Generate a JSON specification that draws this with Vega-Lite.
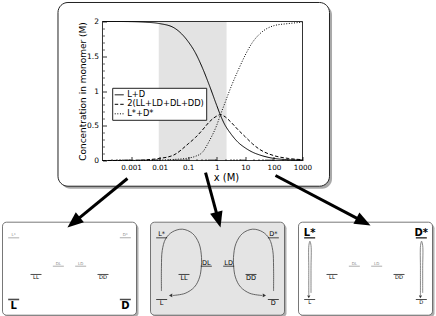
{
  "$schema": "https://vega.github.io/schema/vega-lite/v6.json",
  "background": "white",
  "padding": {"left": 1.5, "top": 1.5, "right": 0, "bottom": 0},
  "config": {
    "font": "DejaVu Sans",
    "view": {"stroke": null},
    "axis": {"labelFont": "DejaVu Sans", "titleFont": "DejaVu Sans"},
    "legend": {"labelFont": "DejaVu Sans"}
  },
  "datasets": {
    "main": [
      {"x": 0.0001, "s": "L+D", "c": 2.0}, {"x": 0.0001, "s": "2(LL+LD+DL+DD)", "c": 0.0}, {"x": 0.0001, "s": "L*+D*", "c": 0.0},
      {"x": 0.00031623, "s": "L+D", "c": 2.0}, {"x": 0.00031623, "s": "2(LL+LD+DL+DD)", "c": 0.001}, {"x": 0.00031623, "s": "L*+D*", "c": 0.0},
      {"x": 0.001, "s": "L+D", "c": 1.998}, {"x": 0.001, "s": "2(LL+LD+DL+DD)", "c": 0.003}, {"x": 0.001, "s": "L*+D*", "c": 0.0005},
      {"x": 0.0031623, "s": "L+D", "c": 1.99}, {"x": 0.0031623, "s": "2(LL+LD+DL+DD)", "c": 0.01}, {"x": 0.0031623, "s": "L*+D*", "c": 0.002},
      {"x": 0.01, "s": "L+D", "c": 1.97}, {"x": 0.01, "s": "2(LL+LD+DL+DD)", "c": 0.03}, {"x": 0.01, "s": "L*+D*", "c": 0.006},
      {"x": 0.031623, "s": "L+D", "c": 1.91}, {"x": 0.031623, "s": "2(LL+LD+DL+DD)", "c": 0.08}, {"x": 0.031623, "s": "L*+D*", "c": 0.015},
      {"x": 0.1, "s": "L+D", "c": 1.71}, {"x": 0.1, "s": "2(LL+LD+DL+DD)", "c": 0.24}, {"x": 0.1, "s": "L*+D*", "c": 0.035},
      {"x": 0.17783, "s": "L+D", "c": 1.55}, {"x": 0.17783, "s": "2(LL+LD+DL+DD)", "c": 0.33}, {"x": 0.17783, "s": "L*+D*", "c": 0.06},
      {"x": 0.31623, "s": "L+D", "c": 1.33}, {"x": 0.31623, "s": "2(LL+LD+DL+DD)", "c": 0.44}, {"x": 0.31623, "s": "L*+D*", "c": 0.12},
      {"x": 0.56234, "s": "L+D", "c": 1.07}, {"x": 0.56234, "s": "2(LL+LD+DL+DD)", "c": 0.56}, {"x": 0.56234, "s": "L*+D*", "c": 0.29},
      {"x": 1, "s": "L+D", "c": 0.79}, {"x": 1, "s": "2(LL+LD+DL+DD)", "c": 0.64}, {"x": 1, "s": "L*+D*", "c": 0.51},
      {"x": 1.349, "s": "L+D", "c": 0.65}, {"x": 1.349, "s": "2(LL+LD+DL+DD)", "c": 0.66}, {"x": 1.349, "s": "L*+D*", "c": 0.66},
      {"x": 1.7783, "s": "L+D", "c": 0.54}, {"x": 1.7783, "s": "2(LL+LD+DL+DD)", "c": 0.64}, {"x": 1.7783, "s": "L*+D*", "c": 0.79},
      {"x": 3.1623, "s": "L+D", "c": 0.38}, {"x": 3.1623, "s": "2(LL+LD+DL+DD)", "c": 0.55}, {"x": 3.1623, "s": "L*+D*", "c": 1.06},
      {"x": 5.6234, "s": "L+D", "c": 0.26}, {"x": 5.6234, "s": "2(LL+LD+DL+DD)", "c": 0.44}, {"x": 5.6234, "s": "L*+D*", "c": 1.30},
      {"x": 10, "s": "L+D", "c": 0.18}, {"x": 10, "s": "2(LL+LD+DL+DD)", "c": 0.34}, {"x": 10, "s": "L*+D*", "c": 1.52},
      {"x": 17.783, "s": "L+D", "c": 0.12}, {"x": 17.783, "s": "2(LL+LD+DL+DD)", "c": 0.24}, {"x": 17.783, "s": "L*+D*", "c": 1.70},
      {"x": 31.623, "s": "L+D", "c": 0.08}, {"x": 31.623, "s": "2(LL+LD+DL+DD)", "c": 0.16}, {"x": 31.623, "s": "L*+D*", "c": 1.82},
      {"x": 100, "s": "L+D", "c": 0.03}, {"x": 100, "s": "2(LL+LD+DL+DD)", "c": 0.07}, {"x": 100, "s": "L*+D*", "c": 1.94},
      {"x": 316.23, "s": "L+D", "c": 0.012}, {"x": 316.23, "s": "2(LL+LD+DL+DD)", "c": 0.03}, {"x": 316.23, "s": "L*+D*", "c": 1.97},
      {"x": 1000, "s": "L+D", "c": 0.004}, {"x": 1000, "s": "2(LL+LD+DL+DD)", "c": 0.012}, {"x": 1000, "s": "L*+D*", "c": 1.99}
    ],
    "levels": [
      {"panel": 1, "species": "L*", "col": 1, "energy": 8.32, "pop": "trace"},
      {"panel": 1, "species": "D*", "col": 11, "energy": 8.32, "pop": "trace"},
      {"panel": 1, "species": "DL", "col": 5, "energy": 5.27, "pop": "trace"},
      {"panel": 1, "species": "LD", "col": 7, "energy": 5.27, "pop": "trace"},
      {"panel": 1, "species": "LL", "col": 3, "energy": 4.38, "pop": "minor"},
      {"panel": 1, "species": "DD", "col": 9, "energy": 4.38, "pop": "minor"},
      {"panel": 1, "species": "L", "col": 1, "energy": 1.69, "pop": "major"},
      {"panel": 1, "species": "D", "col": 11, "energy": 1.69, "pop": "major"},
      {"panel": 2, "species": "L*", "col": 1, "energy": 8.32, "pop": "medium"},
      {"panel": 2, "species": "D*", "col": 11, "energy": 8.32, "pop": "medium"},
      {"panel": 2, "species": "DL", "col": 5, "energy": 5.27, "pop": "medium"},
      {"panel": 2, "species": "LD", "col": 7, "energy": 5.27, "pop": "medium"},
      {"panel": 2, "species": "LL", "col": 3, "energy": 4.38, "pop": "medium"},
      {"panel": 2, "species": "DD", "col": 9, "energy": 4.38, "pop": "medium"},
      {"panel": 2, "species": "L", "col": 1, "energy": 1.69, "pop": "medium"},
      {"panel": 2, "species": "D", "col": 11, "energy": 1.69, "pop": "medium"},
      {"panel": 3, "species": "L*", "col": 1, "energy": 8.32, "pop": "major"},
      {"panel": 3, "species": "D*", "col": 11, "energy": 8.32, "pop": "major"},
      {"panel": 3, "species": "DL", "col": 5, "energy": 5.27, "pop": "trace"},
      {"panel": 3, "species": "LD", "col": 7, "energy": 5.27, "pop": "trace"},
      {"panel": 3, "species": "LL", "col": 3, "energy": 4.38, "pop": "minor"},
      {"panel": 3, "species": "DD", "col": 9, "energy": 4.38, "pop": "minor"},
      {"panel": 3, "species": "L", "col": 1, "energy": 1.69, "pop": "minor"},
      {"panel": 3, "species": "D", "col": 11, "energy": 1.69, "pop": "minor"}
    ],
    "paths": [
      {"panel": 2, "path": "a", "seq": 1, "x": 0.98, "y": 2.6},
      {"panel": 2, "path": "a", "seq": 2, "x": 0.98, "y": 5.2},
      {"panel": 2, "path": "a", "seq": 3, "x": 1.05, "y": 6.95},
      {"panel": 2, "path": "a", "seq": 4, "x": 1.35, "y": 8.2},
      {"panel": 2, "path": "a", "seq": 5, "x": 1.95, "y": 8.95},
      {"panel": 2, "path": "a", "seq": 6, "x": 2.85, "y": 9.25},
      {"panel": 2, "path": "a", "seq": 7, "x": 3.75, "y": 8.8},
      {"panel": 2, "path": "a", "seq": 8, "x": 4.35, "y": 7.7},
      {"panel": 2, "path": "a", "seq": 9, "x": 4.57, "y": 6.2},
      {"panel": 2, "path": "a", "seq": 10, "x": 4.55, "y": 5.2},
      {"panel": 2, "path": "a", "seq": 11, "x": 4.4, "y": 4.1},
      {"panel": 2, "path": "a", "seq": 12, "x": 3.95, "y": 3.05},
      {"panel": 2, "path": "a", "seq": 13, "x": 3.1, "y": 2.35},
      {"panel": 2, "path": "a", "seq": 14, "x": 2.0, "y": 2.12},
      {"panel": 2, "path": "b", "seq": 1, "x": 11.02, "y": 2.6},
      {"panel": 2, "path": "b", "seq": 2, "x": 11.02, "y": 5.2},
      {"panel": 2, "path": "b", "seq": 3, "x": 10.95, "y": 6.95},
      {"panel": 2, "path": "b", "seq": 4, "x": 10.65, "y": 8.2},
      {"panel": 2, "path": "b", "seq": 5, "x": 10.05, "y": 8.95},
      {"panel": 2, "path": "b", "seq": 6, "x": 9.15, "y": 9.25},
      {"panel": 2, "path": "b", "seq": 7, "x": 8.25, "y": 8.8},
      {"panel": 2, "path": "b", "seq": 8, "x": 7.65, "y": 7.7},
      {"panel": 2, "path": "b", "seq": 9, "x": 7.43, "y": 6.2},
      {"panel": 2, "path": "b", "seq": 10, "x": 7.45, "y": 5.2},
      {"panel": 2, "path": "b", "seq": 11, "x": 7.6, "y": 4.1},
      {"panel": 2, "path": "b", "seq": 12, "x": 8.05, "y": 3.05},
      {"panel": 2, "path": "b", "seq": 13, "x": 8.9, "y": 2.35},
      {"panel": 2, "path": "b", "seq": 14, "x": 10.0, "y": 2.12},
      {"panel": 3, "path": "a", "seq": 1, "x": 0.92, "y": 2.15},
      {"panel": 3, "path": "a", "seq": 2, "x": 0.92, "y": 5.0},
      {"panel": 3, "path": "a", "seq": 3, "x": 0.93, "y": 7.5},
      {"panel": 3, "path": "a", "seq": 4, "x": 1.02, "y": 7.95},
      {"panel": 3, "path": "a", "seq": 5, "x": 1.12, "y": 7.5},
      {"panel": 3, "path": "a", "seq": 6, "x": 1.12, "y": 5.0},
      {"panel": 3, "path": "a", "seq": 7, "x": 1.12, "y": 2.4},
      {"panel": 3, "path": "b", "seq": 1, "x": 10.92, "y": 2.15},
      {"panel": 3, "path": "b", "seq": 2, "x": 10.92, "y": 5.0},
      {"panel": 3, "path": "b", "seq": 3, "x": 10.93, "y": 7.5},
      {"panel": 3, "path": "b", "seq": 4, "x": 11.02, "y": 7.95},
      {"panel": 3, "path": "b", "seq": 5, "x": 11.12, "y": 7.5},
      {"panel": 3, "path": "b", "seq": 6, "x": 11.12, "y": 5.0},
      {"panel": 3, "path": "b", "seq": 7, "x": 11.12, "y": 2.4}
    ],
    "heads": [
      {"panel": 2, "x": 1.8, "y": 2.12, "dir": "left"},
      {"panel": 2, "x": 10.2, "y": 2.12, "dir": "right"},
      {"panel": 3, "x": 0.92, "y": 1.98, "dir": "down"},
      {"panel": 3, "x": 10.92, "y": 1.98, "dir": "down"}
    ]
  },
  "bounds": "flush",
  "spacing": 61.7,
  "vconcat": [
    {
      "width": 300,
      "height": 139,
      "resolve": {"axis": {"x": "independent", "y": "independent"}},
      "layer": [
        {
          "data": {"values": [{}]},
          "mark": {"type": "rect", "cornerRadius": 10, "fill": "#8c8c8c", "opacity": 0.75, "clip": false},
          "encoding": {
            "x": {"datum": 3.39e-6, "type": "quantitative", "scale": {"type": "log", "domain": [3.1623e-8, 1000], "nice": false}, "axis": null},
            "x2": {"datum": 10790},
            "y": {"datum": -0.406, "type": "quantitative", "scale": {"domain": [0, 2], "nice": false, "zero": false}, "axis": null},
            "y2": {"datum": 2.2374}
          }
        },
        {
          "data": {"values": [{}]},
          "mark": {"type": "rect", "cornerRadius": 10, "fill": "white", "stroke": "#222", "strokeWidth": 1, "clip": false},
          "encoding": {
            "x": {"datum": 2.77e-6, "type": "quantitative", "scale": {"type": "log", "domain": [3.1623e-8, 1000], "nice": false}, "axis": null},
            "x2": {"datum": 8810},
            "y": {"datum": -0.37, "type": "quantitative", "scale": {"domain": [0, 2], "nice": false, "zero": false}, "axis": null},
            "y2": {"datum": 2.2734}
          }
        },
        {
          "data": {"values": [{}]},
          "mark": {"type": "rect", "fill": "#e3e3e3"},
          "encoding": {
            "x": {"datum": 0.0093, "type": "quantitative", "scale": {"type": "log", "domain": [3.1623e-8, 1000], "nice": false}, "axis": null},
            "x2": {"datum": 2.2},
            "y": {"datum": 0, "type": "quantitative", "scale": {"domain": [0, 2], "nice": false, "zero": false}, "axis": null},
            "y2": {"datum": 2}
          }
        },
        {
          "data": {"name": "main"},
          "mark": {"type": "line", "color": "black", "strokeWidth": 1, "interpolate": "monotone"},
          "encoding": {
            "x": {
              "field": "x", "type": "quantitative",
              "scale": {"type": "log", "domain": [3.1623e-8, 1000], "nice": false},
              "axis": {
                "zindex": 2, "orient": "bottom",
                "values": [0.001, 0.01, 0.1, 1, 10, 100, 1000], "format": "~g",
                "tickSize": -4, "tickColor": "black", "tickWidth": 0.8,
                "labelPadding": 6.5, "labelFontSize": 7.2, "labelColor": "black",
                "labelFlush": false, "labelOverlap": false,
                "domain": false, "grid": false,
                "title": "x (M)", "titleFontSize": 10, "titleFontWeight": "normal", "titleColor": "black",
                "titleX": 223.5, "titleY": 19.5, "titleBaseline": "alphabetic"
              }
            },
            "y": {
              "field": "c", "type": "quantitative",
              "scale": {"domain": [0, 2], "nice": false, "zero": false},
              "axis": {
                "zindex": 2,
                "orient": "left", "offset": -100,
                "values": [0, 0.5, 1, 1.5, 2], "format": "~g",
                "tickSize": -4, "tickColor": "black", "tickWidth": 0.8,
                "labelPadding": 8, "labelFontSize": 7.5, "labelColor": "black",
                "labelFlush": false, "labelOverlap": false,
                "domain": false, "grid": false,
                "title": "Concentration in monomer (M)", "titleFontSize": 9, "titleFontWeight": "normal", "titleColor": "black",
                "titleX": -17.5, "titleBaseline": "alphabetic"
              }
            },
            "strokeDash": {
              "field": "s", "type": "nominal",
              "scale": {"domain": ["L+D", "2(LL+LD+DL+DD)", "L*+D*"], "range": [[1, 0], [3.5, 2], [1, 1.6]]},
              "legend": {
                "orient": "none", "legendX": 109.7, "legendY": 66.3, "title": null,
                "fillColor": "white", "strokeColor": "#222", "padding": 2, "cornerRadius": 0,
                "symbolType": "stroke", "symbolSize": 80, "symbolStrokeWidth": 1, "symbolStrokeColor": "black",
                "labelFontSize": 8.3, "labelColor": "black", "labelOffset": 3, "rowPadding": 0.5
              }
            }
          }
        },
        {
          "data": {"values": [{}]},
          "mark": {"type": "rect", "filled": false, "color": "black", "strokeWidth": 0.8},
          "encoding": {
            "x": {
              "datum": 0.0001, "type": "quantitative",
              "scale": {"type": "log", "domain": [3.1623e-8, 1000], "nice": false},
              "axis": {
                "zindex": 2, "orient": "bottom",
                "values": [0.0002, 0.0003, 0.0004, 0.0005, 0.0006, 0.0007, 0.0008, 0.0009,
                           0.002, 0.003, 0.004, 0.005, 0.006, 0.007, 0.008, 0.009,
                           0.02, 0.03, 0.04, 0.05, 0.06, 0.07, 0.08, 0.09,
                           0.2, 0.3, 0.4, 0.5, 0.6, 0.7, 0.8, 0.9,
                           2, 3, 4, 5, 6, 7, 8, 9,
                           20, 30, 40, 50, 60, 70, 80, 90,
                           200, 300, 400, 500, 600, 700, 800, 900],
                "labels": false, "tickSize": -2, "tickColor": "black", "tickWidth": 0.6,
                "domain": false, "grid": false, "title": null
              }
            },
            "x2": {"datum": 1000},
            "y": {
              "datum": 0, "type": "quantitative",
              "scale": {"domain": [0, 2], "nice": false, "zero": false},
              "axis": {
                "zindex": 2, "orient": "left", "offset": -100,
                "values": [0.1, 0.2, 0.3, 0.4, 0.6, 0.7, 0.8, 0.9, 1.1, 1.2, 1.3, 1.4, 1.6, 1.7, 1.8, 1.9],
                "labels": false, "tickSize": -2, "tickColor": "black", "tickWidth": 0.6,
                "domain": false, "grid": false, "title": null
              }
            },
            "y2": {"datum": 2}
          }
        }
      ]
    },
    {
      "bounds": "flush",
      "spacing": 14,
      "hconcat": [
        {
          "width": 134,
          "height": 93,
          "layer": [
            {
              "data": {"values": [{}]},
              "mark": {"type": "rect", "cornerRadius": 4, "fill": "#8c8c8c", "opacity": 0.7, "clip": false},
              "encoding": {
                "x": {"datum": 0.18, "type": "quantitative", "scale": {"domain": [0, 12], "nice": false, "zero": false}, "axis": null},
                "x2": {"datum": 12.18},
                "y": {"datum": -0.22, "type": "quantitative", "scale": {"domain": [0, 10], "nice": false, "zero": false}, "axis": null},
                "y2": {"datum": 9.78}
              }
            },
            {
              "data": {"values": [{}]},
              "mark": {"type": "rect", "cornerRadius": 4, "fill": "white", "stroke": "#555", "strokeWidth": 0.8, "clip": false},
              "encoding": {
                "x": {"datum": 0, "type": "quantitative", "scale": {"domain": [0, 12], "nice": false, "zero": false}, "axis": null},
                "x2": {"datum": 12},
                "y": {"datum": 0, "type": "quantitative", "scale": {"domain": [0, 10], "nice": false, "zero": false}, "axis": null},
                "y2": {"datum": 10}
              }
            },
            {
              "data": {"name": "levels"},
              "transform": [{"filter": "datum.panel == 1 && datum.pop != 'major'"}],
              "mark": {"type": "tick", "orient": "horizontal", "size": 11, "thickness": 1},
              "encoding": {
                "x": {"field": "col", "type": "quantitative", "scale": {"domain": [0, 12], "nice": false, "zero": false}, "axis": null},
                "y": {"field": "energy", "type": "quantitative", "scale": {"domain": [0, 10], "nice": false, "zero": false}, "axis": null},
                "color": {"field": "pop", "type": "nominal", "scale": {"domain": ["major", "medium", "minor", "trace"], "range": ["black", "black", "black", "#8a8a8a"]}, "legend": null}
              }
            },
            {
              "data": {"name": "levels"},
              "transform": [{"filter": "datum.panel == 1 && datum.pop == 'major'"}],
              "mark": {"type": "tick", "orient": "horizontal", "size": 11, "thickness": 1.6, "color": "black"},
              "encoding": {
                "x": {"field": "col", "type": "quantitative", "scale": {"domain": [0, 12], "nice": false, "zero": false}, "axis": null},
                "y": {"field": "energy", "type": "quantitative", "scale": {"domain": [0, 10], "nice": false, "zero": false}, "axis": null}
              }
            },
            {
              "data": {"name": "levels"},
              "transform": [{"filter": "datum.panel == 1 && datum.pop != 'major' && indexof(['L*','D*','DL','LD'], datum.species) >= 0"}],
              "mark": {"type": "text", "baseline": "alphabetic", "align": "center", "dy": -1.5},
              "encoding": {
                "x": {"field": "col", "type": "quantitative", "scale": {"domain": [0, 12], "nice": false, "zero": false}, "axis": null},
                "y": {"field": "energy", "type": "quantitative", "scale": {"domain": [0, 10], "nice": false, "zero": false}, "axis": null},
                "text": {"field": "species"},
                "size": {"field": "pop", "type": "nominal", "scale": {"domain": ["medium", "minor", "trace"], "range": [6.5, 4, 4]}, "legend": null},
                "color": {"field": "pop", "type": "nominal", "scale": {"domain": ["major", "medium", "minor", "trace"], "range": ["black", "black", "black", "#8a8a8a"]}, "legend": null}
              }
            },
            {
              "data": {"name": "levels"},
              "transform": [{"filter": "datum.panel == 1 && datum.pop != 'major' && indexof(['LL','DD','L','D'], datum.species) >= 0"}],
              "mark": {"type": "text", "baseline": "top", "align": "center", "dy": 1},
              "encoding": {
                "x": {"field": "col", "type": "quantitative", "scale": {"domain": [0, 12], "nice": false, "zero": false}, "axis": null},
                "y": {"field": "energy", "type": "quantitative", "scale": {"domain": [0, 10], "nice": false, "zero": false}, "axis": null},
                "text": {"field": "species"},
                "size": {"field": "pop", "type": "nominal", "scale": {"domain": ["medium", "minor", "trace"], "range": [6.5, 4, 4]}, "legend": null},
                "color": {"field": "pop", "type": "nominal", "scale": {"domain": ["major", "medium", "minor", "trace"], "range": ["black", "black", "black", "#8a8a8a"]}, "legend": null}
              }
            },
            {
              "data": {"name": "levels"},
              "transform": [{"filter": "datum.panel == 1 && datum.pop == 'major'"}],
              "mark": {"type": "text", "baseline": "top", "align": "center", "dy": 1.5, "fontSize": 10, "fontWeight": "bold", "color": "black"},
              "encoding": {
                "x": {"field": "col", "type": "quantitative", "scale": {"domain": [0, 12], "nice": false, "zero": false}, "axis": null},
                "y": {"field": "energy", "type": "quantitative", "scale": {"domain": [0, 10], "nice": false, "zero": false}, "axis": null},
                "text": {"field": "species"}
              }
            },
            {
              "data": {"values": [{}]},
              "mark": {"type": "rule", "strokeWidth": 3, "color": "black", "clip": false},
              "encoding": {
                "x": {"datum": 11.19, "type": "quantitative", "scale": {"domain": [0, 12], "nice": false, "zero": false}, "axis": null},
                "x2": {"datum": 6.72},
                "y": {"datum": 14.7, "type": "quantitative", "scale": {"domain": [0, 10], "nice": false, "zero": false}, "axis": null},
                "y2": {"datum": 10.31}
              }
            },
            {
              "data": {"values": [{}]},
              "mark": {"type": "point", "shape": "M0,-1L0.8,1L-0.8,1Z", "size": 256, "angle": 230.8, "filled": true, "color": "black", "opacity": 1, "clip": false},
              "encoding": {
                "x": {"datum": 6.37, "type": "quantitative", "scale": {"domain": [0, 12], "nice": false, "zero": false}, "axis": null},
                "y": {"datum": 9.98, "type": "quantitative", "scale": {"domain": [0, 10], "nice": false, "zero": false}, "axis": null}
              }
            }
          ]
        },
        {
          "width": 134,
          "height": 93,
          "layer": [
            {
              "data": {"values": [{}]},
              "mark": {"type": "rect", "cornerRadius": 4, "fill": "#8c8c8c", "opacity": 0.7, "clip": false},
              "encoding": {
                "x": {"datum": 0.18, "type": "quantitative", "scale": {"domain": [0, 12], "nice": false, "zero": false}, "axis": null},
                "x2": {"datum": 12.18},
                "y": {"datum": -0.22, "type": "quantitative", "scale": {"domain": [0, 10], "nice": false, "zero": false}, "axis": null},
                "y2": {"datum": 9.78}
              }
            },
            {
              "data": {"values": [{}]},
              "mark": {"type": "rect", "cornerRadius": 4, "fill": "#e4e4e4", "stroke": "#555", "strokeWidth": 0.8, "clip": false},
              "encoding": {
                "x": {"datum": 0, "type": "quantitative", "scale": {"domain": [0, 12], "nice": false, "zero": false}, "axis": null},
                "x2": {"datum": 12},
                "y": {"datum": 0, "type": "quantitative", "scale": {"domain": [0, 10], "nice": false, "zero": false}, "axis": null},
                "y2": {"datum": 10}
              }
            },
            {
              "data": {"name": "paths"},
              "transform": [{"filter": "datum.panel == 2"}],
              "mark": {"type": "line", "interpolate": "catmull-rom", "color": "#444", "strokeWidth": 0.8},
              "encoding": {
                "x": {"field": "x", "type": "quantitative", "scale": {"domain": [0, 12], "nice": false, "zero": false}, "axis": null},
                "y": {"field": "y", "type": "quantitative", "scale": {"domain": [0, 10], "nice": false, "zero": false}, "axis": null},
                "detail": {"field": "path"},
                "order": {"field": "seq", "type": "quantitative"}
              }
            },
            {
              "data": {"name": "heads"},
              "transform": [{"filter": "datum.panel == 2"}],
              "mark": {"type": "point", "filled": true, "color": "#333", "size": 14, "opacity": 1},
              "encoding": {
                "x": {"field": "x", "type": "quantitative", "scale": {"domain": [0, 12], "nice": false, "zero": false}, "axis": null},
                "y": {"field": "y", "type": "quantitative", "scale": {"domain": [0, 10], "nice": false, "zero": false}, "axis": null},
                "shape": {"field": "dir", "type": "nominal", "scale": {"domain": ["left", "right", "down"], "range": ["triangle-left", "triangle-right", "triangle-down"]}, "legend": null}
              }
            },
            {
              "data": {"name": "levels"},
              "transform": [{"filter": "datum.panel == 2"}],
              "mark": {"type": "tick", "orient": "horizontal", "size": 11, "thickness": 1, "color": "black"},
              "encoding": {
                "x": {"field": "col", "type": "quantitative", "scale": {"domain": [0, 12], "nice": false, "zero": false}, "axis": null},
                "y": {"field": "energy", "type": "quantitative", "scale": {"domain": [0, 10], "nice": false, "zero": false}, "axis": null}
              }
            },
            {
              "data": {"name": "levels"},
              "transform": [{"filter": "datum.panel == 2 && indexof(['L*','D*','DL','LD'], datum.species) >= 0"}],
              "mark": {"type": "text", "baseline": "alphabetic", "align": "center", "dy": -1.5, "fontSize": 6.5, "color": "black"},
              "encoding": {
                "x": {"field": "col", "type": "quantitative", "scale": {"domain": [0, 12], "nice": false, "zero": false}, "axis": null},
                "y": {"field": "energy", "type": "quantitative", "scale": {"domain": [0, 10], "nice": false, "zero": false}, "axis": null},
                "text": {"field": "species"}
              }
            },
            {
              "data": {"name": "levels"},
              "transform": [{"filter": "datum.panel == 2 && indexof(['LL','DD','L','D'], datum.species) >= 0"}],
              "mark": {"type": "text", "baseline": "top", "align": "center", "dy": 1, "fontSize": 6.5, "color": "black"},
              "encoding": {
                "x": {"field": "col", "type": "quantitative", "scale": {"domain": [0, 12], "nice": false, "zero": false}, "axis": null},
                "y": {"field": "energy", "type": "quantitative", "scale": {"domain": [0, 10], "nice": false, "zero": false}, "axis": null},
                "text": {"field": "species"}
              }
            },
            {
              "data": {"values": [{}]},
              "mark": {"type": "rule", "strokeWidth": 3, "color": "black", "clip": false},
              "encoding": {
                "x": {"datum": 4.93, "type": "quantitative", "scale": {"domain": [0, 12], "nice": false, "zero": false}, "axis": null},
                "x2": {"datum": 5.96},
                "y": {"datum": 15.34, "type": "quantitative", "scale": {"domain": [0, 10], "nice": false, "zero": false}, "axis": null},
                "y2": {"datum": 10.77}
              }
            },
            {
              "data": {"values": [{}]},
              "mark": {"type": "point", "shape": "M0,-1L0.8,1L-0.8,1Z", "size": 256, "angle": 164.8, "filled": true, "color": "black", "opacity": 1, "clip": false},
              "encoding": {
                "x": {"datum": 6.08, "type": "quantitative", "scale": {"domain": [0, 12], "nice": false, "zero": false}, "axis": null},
                "y": {"datum": 10.26, "type": "quantitative", "scale": {"domain": [0, 10], "nice": false, "zero": false}, "axis": null}
              }
            }
          ]
        },
        {
          "width": 134,
          "height": 93,
          "layer": [
            {
              "data": {"values": [{}]},
              "mark": {"type": "rect", "cornerRadius": 4, "fill": "#8c8c8c", "opacity": 0.7, "clip": false},
              "encoding": {
                "x": {"datum": 0.18, "type": "quantitative", "scale": {"domain": [0, 12], "nice": false, "zero": false}, "axis": null},
                "x2": {"datum": 12.18},
                "y": {"datum": -0.22, "type": "quantitative", "scale": {"domain": [0, 10], "nice": false, "zero": false}, "axis": null},
                "y2": {"datum": 9.78}
              }
            },
            {
              "data": {"values": [{}]},
              "mark": {"type": "rect", "cornerRadius": 4, "fill": "white", "stroke": "#555", "strokeWidth": 0.8, "clip": false},
              "encoding": {
                "x": {"datum": 0, "type": "quantitative", "scale": {"domain": [0, 12], "nice": false, "zero": false}, "axis": null},
                "x2": {"datum": 12},
                "y": {"datum": 0, "type": "quantitative", "scale": {"domain": [0, 10], "nice": false, "zero": false}, "axis": null},
                "y2": {"datum": 10}
              }
            },
            {
              "data": {"name": "paths"},
              "transform": [{"filter": "datum.panel == 3"}],
              "mark": {"type": "line", "interpolate": "catmull-rom", "color": "#555", "strokeWidth": 0.7},
              "encoding": {
                "x": {"field": "x", "type": "quantitative", "scale": {"domain": [0, 12], "nice": false, "zero": false}, "axis": null},
                "y": {"field": "y", "type": "quantitative", "scale": {"domain": [0, 10], "nice": false, "zero": false}, "axis": null},
                "detail": {"field": "path"},
                "order": {"field": "seq", "type": "quantitative"}
              }
            },
            {
              "data": {"name": "heads"},
              "transform": [{"filter": "datum.panel == 3"}],
              "mark": {"type": "point", "filled": true, "color": "#333", "size": 10, "opacity": 1},
              "encoding": {
                "x": {"field": "x", "type": "quantitative", "scale": {"domain": [0, 12], "nice": false, "zero": false}, "axis": null},
                "y": {"field": "y", "type": "quantitative", "scale": {"domain": [0, 10], "nice": false, "zero": false}, "axis": null},
                "shape": {"field": "dir", "type": "nominal", "scale": {"domain": ["left", "right", "down"], "range": ["triangle-left", "triangle-right", "triangle-down"]}, "legend": null}
              }
            },
            {
              "data": {"name": "levels"},
              "transform": [{"filter": "datum.panel == 3 && datum.pop != 'major'"}],
              "mark": {"type": "tick", "orient": "horizontal", "size": 11, "thickness": 1},
              "encoding": {
                "x": {"field": "col", "type": "quantitative", "scale": {"domain": [0, 12], "nice": false, "zero": false}, "axis": null},
                "y": {"field": "energy", "type": "quantitative", "scale": {"domain": [0, 10], "nice": false, "zero": false}, "axis": null},
                "color": {"field": "pop", "type": "nominal", "scale": {"domain": ["major", "medium", "minor", "trace"], "range": ["black", "black", "black", "#8a8a8a"]}, "legend": null}
              }
            },
            {
              "data": {"name": "levels"},
              "transform": [{"filter": "datum.panel == 3 && datum.pop == 'major'"}],
              "mark": {"type": "tick", "orient": "horizontal", "size": 11, "thickness": 1.6, "color": "black"},
              "encoding": {
                "x": {"field": "col", "type": "quantitative", "scale": {"domain": [0, 12], "nice": false, "zero": false}, "axis": null},
                "y": {"field": "energy", "type": "quantitative", "scale": {"domain": [0, 10], "nice": false, "zero": false}, "axis": null}
              }
            },
            {
              "data": {"name": "levels"},
              "transform": [{"filter": "datum.panel == 3 && datum.pop != 'major' && indexof(['L*','D*','DL','LD'], datum.species) >= 0"}],
              "mark": {"type": "text", "baseline": "alphabetic", "align": "center", "dy": -1.5},
              "encoding": {
                "x": {"field": "col", "type": "quantitative", "scale": {"domain": [0, 12], "nice": false, "zero": false}, "axis": null},
                "y": {"field": "energy", "type": "quantitative", "scale": {"domain": [0, 10], "nice": false, "zero": false}, "axis": null},
                "text": {"field": "species"},
                "size": {"field": "pop", "type": "nominal", "scale": {"domain": ["medium", "minor", "trace"], "range": [6.5, 4, 4]}, "legend": null},
                "color": {"field": "pop", "type": "nominal", "scale": {"domain": ["major", "medium", "minor", "trace"], "range": ["black", "black", "black", "#8a8a8a"]}, "legend": null}
              }
            },
            {
              "data": {"name": "levels"},
              "transform": [{"filter": "datum.panel == 3 && datum.pop != 'major' && indexof(['LL','DD','L','D'], datum.species) >= 0"}],
              "mark": {"type": "text", "baseline": "top", "align": "center", "dy": 1},
              "encoding": {
                "x": {"field": "col", "type": "quantitative", "scale": {"domain": [0, 12], "nice": false, "zero": false}, "axis": null},
                "y": {"field": "energy", "type": "quantitative", "scale": {"domain": [0, 10], "nice": false, "zero": false}, "axis": null},
                "text": {"field": "species"},
                "size": {"field": "pop", "type": "nominal", "scale": {"domain": ["medium", "minor", "trace"], "range": [6.5, 4, 4]}, "legend": null},
                "color": {"field": "pop", "type": "nominal", "scale": {"domain": ["major", "medium", "minor", "trace"], "range": ["black", "black", "black", "#8a8a8a"]}, "legend": null}
              }
            },
            {
              "data": {"name": "levels"},
              "transform": [{"filter": "datum.panel == 3 && datum.pop == 'major'"}],
              "mark": {"type": "text", "baseline": "alphabetic", "align": "center", "dy": -1.5, "fontSize": 10, "fontWeight": "bold", "color": "black"},
              "encoding": {
                "x": {"field": "col", "type": "quantitative", "scale": {"domain": [0, 12], "nice": false, "zero": false}, "axis": null},
                "y": {"field": "energy", "type": "quantitative", "scale": {"domain": [0, 10], "nice": false, "zero": false}, "axis": null},
                "text": {"field": "species"}
              }
            },
            {
              "data": {"values": [{}]},
              "mark": {"type": "rule", "strokeWidth": 3, "color": "black", "clip": false},
              "encoding": {
                "x": {"datum": -2.06, "type": "quantitative", "scale": {"domain": [0, 12], "nice": false, "zero": false}, "axis": null},
                "x2": {"datum": 5.42},
                "y": {"datum": 15.02, "type": "quantitative", "scale": {"domain": [0, 10], "nice": false, "zero": false}, "axis": null},
                "y2": {"datum": 10.3}
              }
            },
            {
              "data": {"values": [{}]},
              "mark": {"type": "point", "shape": "M0,-1L0.8,1L-0.8,1Z", "size": 256, "angle": 117.8, "filled": true, "color": "black", "opacity": 1, "clip": false},
              "encoding": {
                "x": {"datum": 5.82, "type": "quantitative", "scale": {"domain": [0, 12], "nice": false, "zero": false}, "axis": null},
                "y": {"datum": 10.04, "type": "quantitative", "scale": {"domain": [0, 10], "nice": false, "zero": false}, "axis": null}
              }
            }
          ]
        }
      ]
    }
  ]
}
